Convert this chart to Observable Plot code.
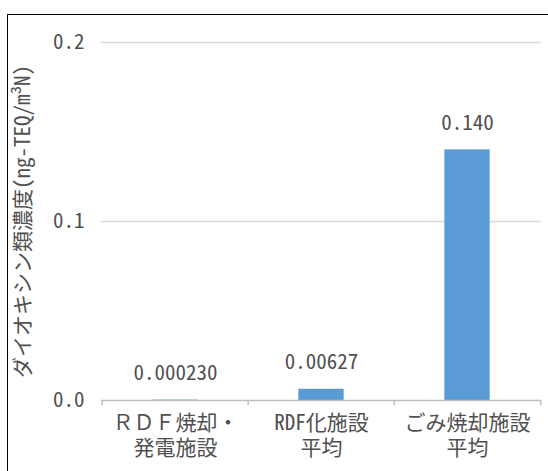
<!DOCTYPE html>
<html><head><meta charset="utf-8">
<script src="https://cdn.jsdelivr.net/npm/d3@7"></script>
<script src="https://cdn.jsdelivr.net/npm/@observablehq/plot@0.6"></script>
<style>
body{margin:0;background:#fff;}
#wrap{position:relative;width:548px;height:471px;overflow:hidden;}
#frame{position:absolute;left:7px;top:14px;width:600px;height:600px;border-left:1.5px solid #000;border-top:1.5px solid #000;}
#chart{position:absolute;left:0;top:0;}
</style>
</head><body>
<div id="wrap"><div id="frame"></div><div id="chart"></div></div>
<script>
const categories = ["ＲＤＦ焼却・\n発電施設", "RDF化施設\n平均", "ごみ焼却施設\n平均"];
const values = [0.000230, 0.00627, 0.140];
const valueLabels = ["0.000230", "0.00627", "0.140"];
const yTicks = [0, 0.1, 0.2];
const yTickLabels = ["0.0", "0.1", "0.2"];
const yLabel = "ダイオキシン類濃度(ng-TEQ/m³N)";

const data = categories.map((c, i) => ({cat: c, v: values[i], lab: valueLabels[i]}));

const W = 548, H = 471, ML = 101, MR = 7, MT = 42, MB = 71;
const halfBand = (W - ML - MR) / categories.length / 2;
const barInset = halfBand - 23;
const font = "'Noto Sans Mono CJK JP', 'Noto Sans CJK JP', 'Liberation Mono', monospace";
const textColor = "#505050";
const line = k => d => d.split("\n")[k];

const chart = Plot.plot({
  width: W, height: H,
  marginLeft: ML, marginRight: MR, marginTop: MT, marginBottom: MB,
  style: {fontFamily: font, fontSize: "21px", color: textColor, background: "transparent"},
  x: {domain: categories, padding: 0},
  y: {domain: [0, 0.2]},
  marks: [
    Plot.gridY(yTicks.filter(d => d > 0), {stroke: "#d9d9d9", strokeOpacity: 1, strokeWidth: 1.5}),
    Plot.barY(data, {x: "cat", y: "v", fill: "#5b9bd5", insetLeft: barInset, insetRight: barInset}),
    Plot.ruleY([0], {stroke: "#bfbfbf", strokeWidth: 1.5}),
    Plot.ruleX(categories, {x: d => d, y1: 0, y2: -0.003, dx: -halfBand, stroke: "#bfbfbf", strokeWidth: 1.5}),
    Plot.ruleX(categories.slice(-1), {x: d => d, y1: 0, y2: -0.003, dx: halfBand, stroke: "#bfbfbf", strokeWidth: 1.5}),
    Plot.text(data, {x: "cat", y: "v", text: "lab", dy: -20, lineAnchor: "bottom", fill: textColor, fontSize: 21}),
    Plot.axisY(yTicks, {tickFormat: (d, i) => yTickLabels[i], tickSize: 0, tickPadding: 17,
      label: yLabel, labelAnchor: "center", labelArrow: "none", labelOffset: 86, fill: textColor}),
    Plot.axisX({tickSize: 0, tickPadding: 15, label: null, tickFormat: line(0), fill: textColor}),
    Plot.axisX({tickSize: 0, tickPadding: 40, label: null, tickFormat: line(1), fill: textColor})
  ]
});
document.getElementById("chart").appendChild(chart);
</script>
</body></html>
